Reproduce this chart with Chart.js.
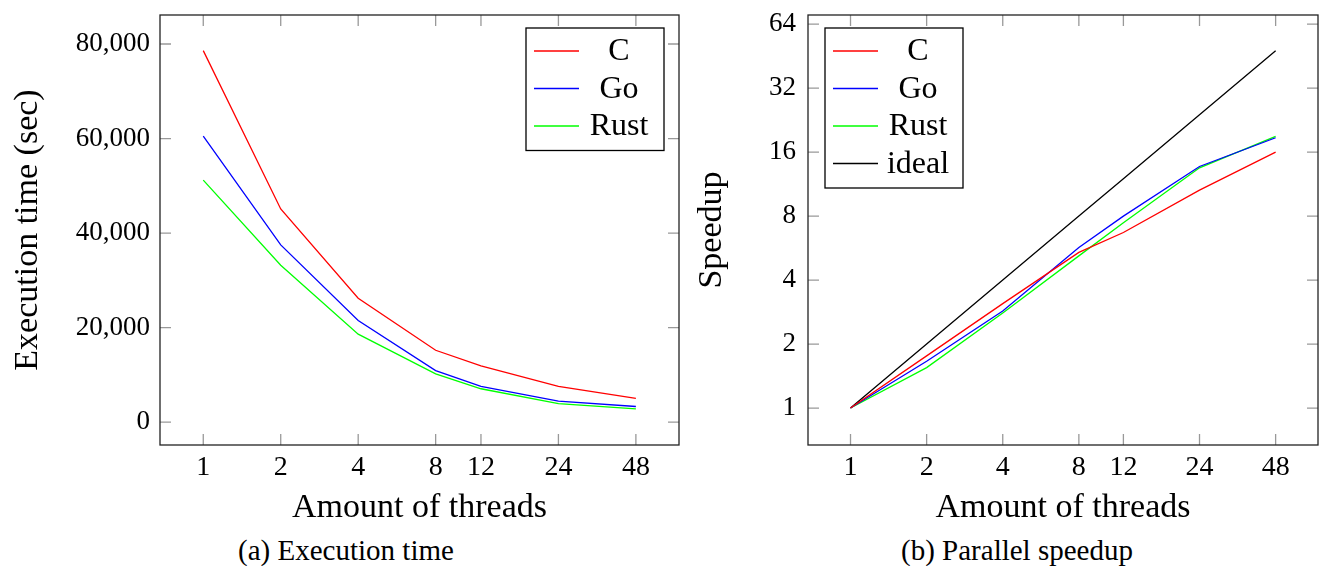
<!DOCTYPE html>
<html>
<head>
<meta charset="utf-8">
<script src="https://cdn.jsdelivr.net/npm/chart.js@4"></script>
<style>
  body { margin: 0; background: #fff; width: 1319px; height: 566px; position: relative; overflow: hidden; }
  .box { position: absolute; top: 0; height: 530px; }
  .caption { position: absolute; top: 534px; font-family: 'Liberation Serif'; font-size: 29px; color: #000; transform: translateX(-50%); white-space: nowrap; }
</style>
</head>
<body>
<div class="box" style="left:0;width:690px"><canvas id="timeChart"></canvas></div>
<div class="box" style="left:690px;width:629px"><canvas id="speedupChart"></canvas></div>
<div class="caption" style="left:346px">(a) Execution time</div>
<div class="caption" style="left:1017px">(b) Parallel speedup</div>
<script>
const threads = [1, 2, 4, 8, 12, 24, 48]
const timeC = [78600, 45100, 26200, 15200, 11900, 7550, 5000]
const timeGo = [60500, 37500, 21500, 10900, 7550, 4450, 3300]
const timeRust = [51200, 33200, 18600, 10200, 7050, 3900, 2800]
const speedupC = [1, 1.76, 3.1, 5.4, 6.7, 10.6, 16.0]
const speedupGo = [1, 1.66, 2.86, 5.7, 8.0, 13.7, 18.7]
const speedupRust = [1, 1.55, 2.8, 5.2, 7.45, 13.5, 19.0]
const speedupIdeal = [1, 2, 4, 8, 12, 24, 48]
const timeTicks = [0, 20000, 40000, 60000, 80000]
const speedupTicks = [1, 2, 4, 8, 16, 32, 64]

Chart.defaults.font.family = 'Liberation Serif'
Chart.defaults.color = '#000'

const points = arr => arr.map((v, i) => ({ x: threads[i], y: v }))
const series = (label, arr, color) => ({
  label: label,
  data: points(arr),
  borderColor: color,
  backgroundColor: color,
  borderWidth: 1.3,
  pointRadius: 0,
  tension: 0
})

// pgfplots style box: inner ticks on all four sides + frame + legend inside
const framePlugin = {
  id: 'frame',
  beforeDatasetsDraw(chart) {
    const { ctx, chartArea: a } = chart
    const len = 11
    ctx.save()
    ctx.strokeStyle = '#999'
    ctx.lineWidth = 1.3
    ctx.beginPath()
    chart.scales.x.ticks.forEach(t => {
      const px = chart.scales.x.getPixelForValue(t.value)
      ctx.moveTo(px, a.bottom); ctx.lineTo(px, a.bottom - len)
      ctx.moveTo(px, a.top); ctx.lineTo(px, a.top + len)
    })
    chart.scales.y.ticks.forEach(t => {
      const py = chart.scales.y.getPixelForValue(t.value)
      ctx.moveTo(a.left, py); ctx.lineTo(a.left + len, py)
      ctx.moveTo(a.right, py); ctx.lineTo(a.right - len, py)
    })
    ctx.stroke()
    ctx.restore()
  },
  afterDatasetsDraw(chart, args, opts) {
    const { ctx, chartArea: a } = chart
    ctx.save()
    ctx.strokeStyle = '#222'
    ctx.lineWidth = 1.3
    ctx.strokeRect(a.left, a.top, a.right - a.left, a.bottom - a.top)

    // legend
    const sets = chart.data.datasets
    const w = 138, rowH = 37.5
    const h = sets.length * rowH + 10
    const x0 = opts.side === 'right' ? a.right - 15 - w : a.left + 17
    const y0 = a.top + 13
    ctx.fillStyle = '#fff'
    ctx.fillRect(x0, y0, w, h)
    ctx.strokeStyle = '#000'
    ctx.strokeRect(x0, y0, w, h)
    ctx.font = '32px "Liberation Serif"'
    ctx.textAlign = 'center'
    ctx.textBaseline = 'middle'
    sets.forEach((ds, i) => {
      const cy = y0 + 23 + i * rowH
      ctx.strokeStyle = ds.borderColor
      ctx.beginPath()
      ctx.moveTo(x0 + 8, cy); ctx.lineTo(x0 + 53, cy)
      ctx.stroke()
      ctx.fillStyle = '#000'
      ctx.fillText(ds.label, x0 + 93, cy + 1)
    })
    ctx.restore()
  }
}

const fitX = scale => {
  scale.height = 85
  scale.paddingLeft = 0
  scale.paddingRight = 0
}
const fitY = width => scale => {
  scale.width = width
  scale.paddingTop = 0
  scale.paddingBottom = 0
}

const xAxis = {
  type: 'logarithmic',
  min: 0.679,
  max: 70.6,
  grid: { display: false, drawTicks: false },
  border: { display: false },
  afterBuildTicks: scale => { scale.ticks = threads.map(v => ({ value: v })) },
  afterFit: fitX,
  ticks: { font: { size: 28 }, padding: 6, maxRotation: 0, autoSkip: false, callback: v => String(v) },
  title: { display: true, text: 'Amount of threads', font: { size: 34, lineHeight: 1.2 }, padding: { top: 0, bottom: 2 } }
}

const timeChart = document.querySelector('#timeChart')
if (timeChart) {
  new Chart(timeChart, {
    type: 'line',
    data: {
      datasets: [
        series('C', timeC, '#ff0000'),
        series('Go', timeGo, '#0000ff'),
        series('Rust', timeRust, '#00ff00')
      ]
    },
    options: {
      responsive: true,
      maintainAspectRatio: false,
      animation: false,
      layout: { padding: { top: 15, right: 11, left: 0, bottom: 0 } },
      plugins: { legend: { display: false }, tooltip: { enabled: false }, frame: { side: 'right' } },
      scales: {
        x: xAxis,
        y: {
          type: 'linear',
          min: -4850,
          max: 86140,
          grid: { display: false, drawTicks: false },
          border: { display: false },
          afterBuildTicks: scale => { scale.ticks = timeTicks.map(v => ({ value: v })) },
          afterFit: fitY(160),
          ticks: { font: { size: 27 }, padding: 10, callback: v => v.toLocaleString('en-US') },
          title: { display: true, text: 'Execution time (sec)', font: { size: 34, lineHeight: 1.2 }, padding: { top: 8, bottom: 0 } }
        }
      }
    },
    plugins: [framePlugin]
  })
}

const speedupChart = document.querySelector('#speedupChart')
if (speedupChart) {
  new Chart(speedupChart, {
    type: 'line',
    data: {
      datasets: [
        series('C', speedupC, '#ff0000'),
        series('Go', speedupGo, '#0000ff'),
        series('Rust', speedupRust, '#00ff00'),
        series('ideal', speedupIdeal, '#000000')
      ]
    },
    options: {
      responsive: true,
      maintainAspectRatio: false,
      animation: false,
      layout: { padding: { top: 15, right: 1, left: 0, bottom: 0 } },
      plugins: { legend: { display: false }, tooltip: { enabled: false }, frame: { side: 'left' } },
      scales: {
        x: xAxis,
        y: {
          type: 'logarithmic',
          min: 0.67,
          max: 70.7,
          grid: { display: false, drawTicks: false },
          border: { display: false },
          afterBuildTicks: scale => { scale.ticks = speedupTicks.map(v => ({ value: v })) },
          afterFit: fitY(118),
          ticks: { font: { size: 27 }, padding: 12, callback: v => String(v) },
          title: { display: true, text: 'Speedup', font: { size: 34, lineHeight: 1.2 }, padding: { top: 2, bottom: 0 } }
        }
      }
    },
    plugins: [framePlugin]
  })
}
</script>
</body>
</html>
